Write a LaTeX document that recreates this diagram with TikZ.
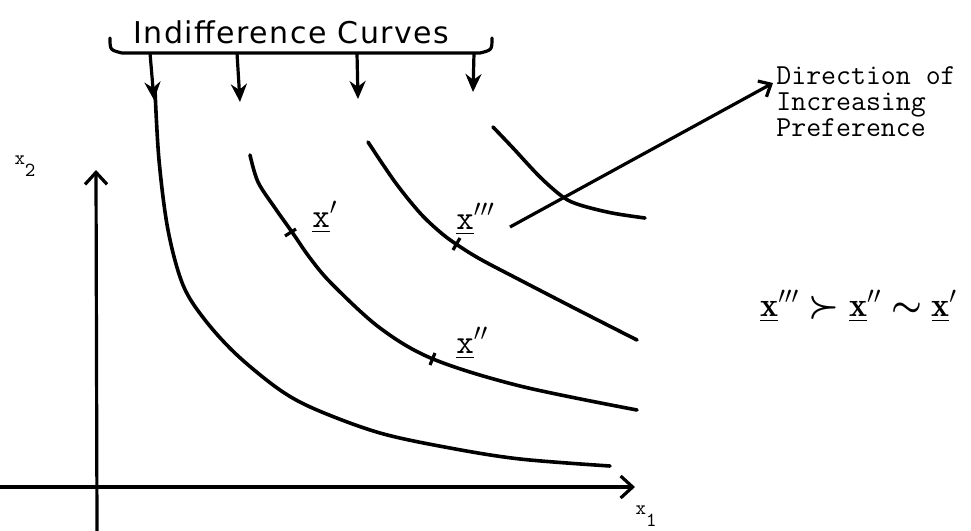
\documentclass[tikz,border=0pt]{standalone}
\usepackage{amsmath}
\usepackage{amssymb}
\usepackage{fontspec}
\usepackage{tikz}
\usetikzlibrary{arrows.meta}
\newfontfamily\handfont[LetterSpace=5]{DejaVu Sans}
\newcommand{\ux}{\underline{\mathtt{x}}}
\newcommand{\bx}{\underline{\mathbf{x}}}
\newcommand{\prefrel}{$\bx^{\prime\prime\prime}\mathrel{\boldsymbol{\succ}}\bx^{\prime\prime}\mathrel{\boldsymbol{\sim}}\bx^{\prime}$}

\begin{document}
\begin{tikzpicture}[x=0.5pt,y=-0.5pt,
    curve/.style={line width=1.8pt,line cap=round},
    tick/.style={line width=1.6pt},
    lbl/.style={inner sep=0pt,font=\ttfamily\fontsize{17}{17}\selectfont}]
    \useasboundingbox (0,0) rectangle (971,531);

    % axes
    \coordinate (ybot) at (97,531);
    \coordinate (ytop) at (96,170);
    \coordinate (xleft) at (0,487);
    \coordinate (xright) at (635,487);
    \node[inner sep=0pt,font=\ttfamily\fontsize{10}{10}\selectfont] (x2) at (25,166) {x\raisebox{-6pt}{2}};
    \node[inner sep=0pt,font=\ttfamily\fontsize{10}{10}\selectfont] (x1) at (646,516) {x\raisebox{-6pt}{1}};

    % indifference curves
    \draw[curve] plot[smooth,tension=0.55] coordinates {(155,90) (159,160) (168,230) (183,285) (205,320) (237,355) (280,390) (317,410) (380,433) (450,448) (520,459) (610,466)};
    \draw[curve] plot[smooth,tension=0.55] coordinates {(250,155) (258,182) (275,208) (292,232) (310,258) (332,284) (380,328) (433,359) (520,386) (637,410)};
    \draw[curve] plot[smooth,tension=0.55] coordinates {(368,142) (395,182) (420,213) (440,232) (456,244) (480,259) (520,280) (580,311) (637,340)};
    \draw[curve] plot[smooth,tension=0.55] coordinates {(493,127) (513,148) (540,177) (563,197) (580,205) (612,213) (645,218)};

    % ticks and points
    \draw[tick] (285,236) -- (296,229);
    \draw[tick] (435,353) -- (430,365);
    \draw[tick] (460,238) -- (453,250);
    \node[lbl,anchor=base west] (p1) at (312,227) {$\ux^{\prime}$};
    \node[lbl,anchor=base west] (p2) at (456,353) {$\ux^{\prime\prime}$};
    \node[lbl,anchor=base west] (p3) at (456,229) {$\ux^{\prime\prime\prime}$};

    % labels
    \node[inner sep=0pt,anchor=base west,font=\handfont\fontsize{15}{15}\selectfont] (ic) at (133,43) {Indifference Curves};
    \node[inner sep=0pt,anchor=north west,align=left,font=\ttfamily\fontsize{14.5}{13}\selectfont] (dir) at (776,66) {Direction of\\Increasing\\Preference};
    \node[inner sep=0pt,anchor=base west,font=\bfseries\fontsize{17}{17}\selectfont] (rel) at (760,316) {\prefrel};

    \coordinate (b1) at (110,38);
    \coordinate (b2) at (492,38);
    \coordinate (d1) at (154,100);
    \coordinate (d2) at (240,102);
    \coordinate (d3) at (358,99);
    \coordinate (d4) at (473,92);
    \coordinate (dirtail) at (510,227);
    \coordinate (dirtip) at (773,83);

    % brace
    \draw[line width=1.6pt,line cap=round] (b1) .. controls (110,50) .. (122,53) -- (480,53) .. controls (492,50) .. (b2);

    \path[line width=1.6pt]
    (150,53) [-{Stealth[length=9pt,width=8pt]}] edge (d1)
    (237,53) [-{Stealth[length=9pt,width=8pt]}] edge (d2)
    (357,53) [-{Stealth[length=9pt,width=8pt]}] edge (d3)
    (474,53) [-{Stealth[length=9pt,width=8pt]}] edge (d4)
    (ybot) [-{Straight Barb[length=6pt,width=11pt]}] edge (ytop)
    (xleft) [-{Straight Barb[length=6pt,width=11pt]}] edge (xright)
    (dirtail) [-{Straight Barb[length=5pt,width=9pt]}] edge (dirtip);

\end{tikzpicture}
\end{document}
